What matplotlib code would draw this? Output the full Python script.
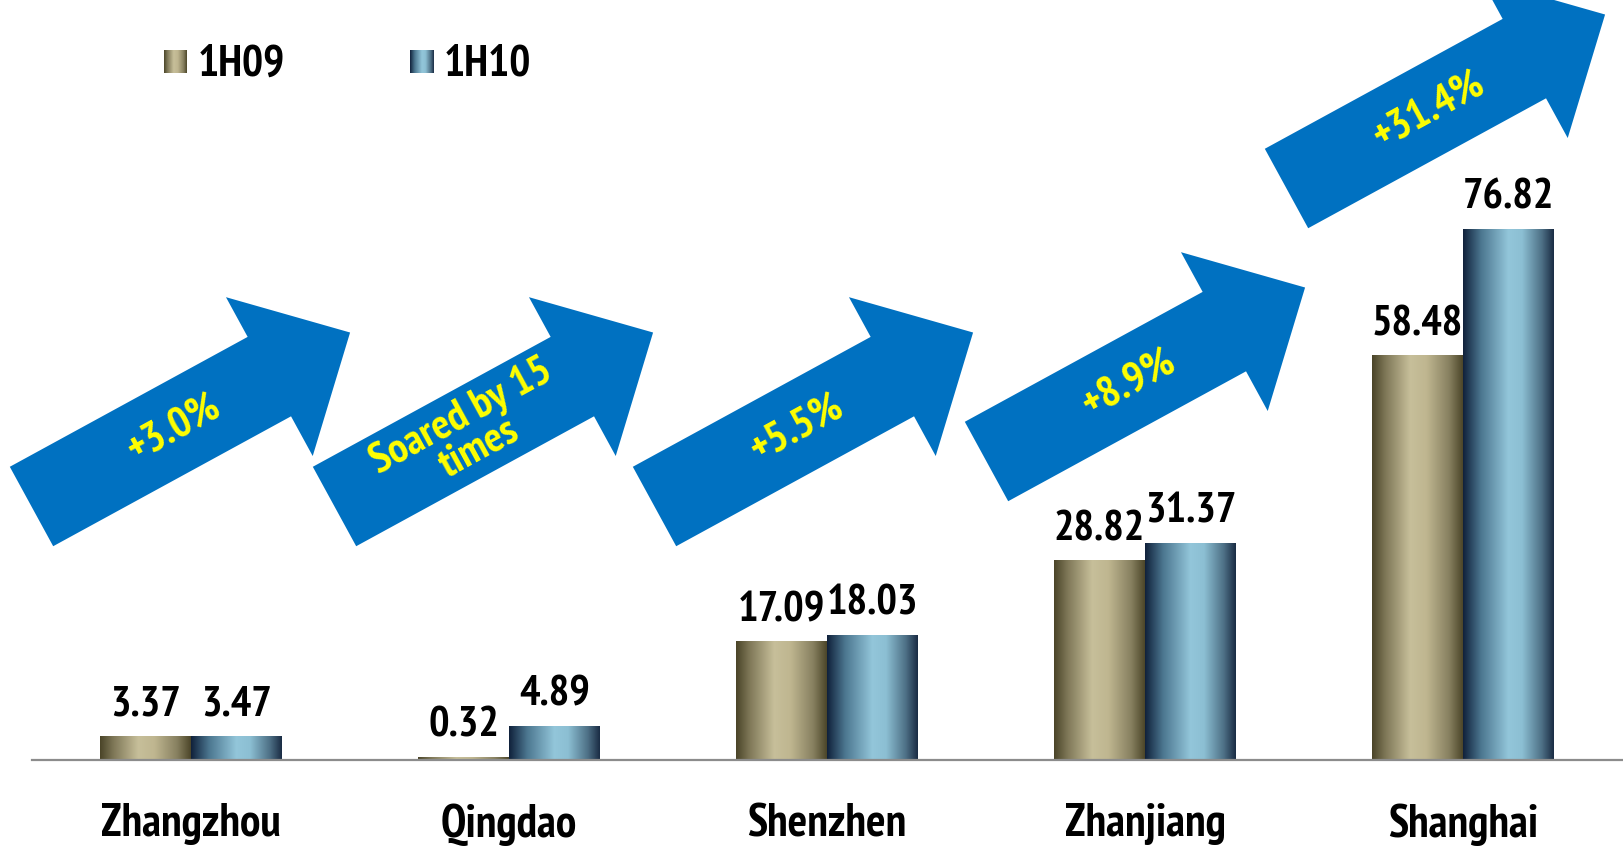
import numpy as np
import matplotlib
matplotlib.use("Agg")
import matplotlib.pyplot as plt
import matplotlib.transforms as mtransforms
import matplotlib.font_manager as fm
from matplotlib.colors import LinearSegmentedColormap
from matplotlib.patches import Polygon

# data
ports = ["Zhangzhou", "Qingdao", "Shenzhen", "Zhanjiang", "Shanghai"]
series = ["1H09", "1H10"]
vals_1h09 = [3.37, 0.32, 17.09, 28.82, 58.48]
vals_1h10 = [3.47, 4.89, 18.03, 31.37, 76.82]
growth_labels = ["+3.0%", "Soared by 15\ntimes", "+5.5%", "+8.9%", "+31.4%"]

W, H = 1624, 858


def narrow_bold_font():
    # first Arial Narrow Bold look-alike that has a real bold face installed
    wanted = ["Liberation Sans Narrow", "PT Sans Narrow", "Open Sans Condensed",
              "IBM Plex Sans Condensed", "Roboto Condensed"]
    bold = {f.name for f in fm.fontManager.ttflist
            if isinstance(f.weight, int) and f.weight >= 700 or f.weight == "bold"}
    for name in wanted:
        if name in bold:
            return name
    return "Liberation Sans"


LABEL_FONT = [narrow_bold_font(), "DejaVu Sans"]
ARROW_BLUE = "#0071c1"

# horizontal "metal" gradients used for the bars
cmap_09 = LinearSegmentedColormap.from_list("c09", [
    (0.0, "#4a4428"), (0.15, "#7f7858"), (0.42, "#c7bf9a"),
    (0.6, "#bfb690"), (0.85, "#878060"), (1.0, "#4c4629")])
cmap_10 = LinearSegmentedColormap.from_list("c10", [
    (0.0, "#10213b"), (0.2, "#4c7790"), (0.5, "#93c6da"),
    (0.65, "#8cbfd3"), (0.87, "#4d6f85"), (1.0, "#1a2c44")])
grad = np.linspace(0, 1, 256).reshape(1, -1)

fig = plt.figure(figsize=(W / 100, H / 100), dpi=100)
# pixel coords measured from the top-left corner of the figure
px = mtransforms.Affine2D().scale(1 / W, -1 / H).translate(0, 1) + fig.transFigure

ax = fig.add_axes([32 / W, 98 / H, 1590 / W, 760 / H])
ax.set_zorder(1)
ax.patch.set_alpha(0)

x = np.arange(len(ports))
width = 0.286
ymax = 110.0

bars09 = ax.bar(x - width / 2, vals_1h09, width, facecolor="none", linewidth=0)
bars10 = ax.bar(x + width / 2, vals_1h10, width, facecolor="none", linewidth=0)

for bars, cmap, vals in [(bars09, cmap_09, vals_1h09), (bars10, cmap_10, vals_1h10)]:
    for rect, v in zip(bars, vals):
        x0 = rect.get_x()
        x1 = x0 + rect.get_width()
        ax.imshow(grad, cmap=cmap, extent=[x0, x1, 0, rect.get_height()],
                  aspect="auto", zorder=2, interpolation="bilinear")
        ax.annotate(f"{v:.2f}", (x0 + rect.get_width() / 2, v),
                    xytext=(0, 15), textcoords="offset points",
                    ha="center", va="baseline", fontsize=31,
                    fontweight="bold", family=LABEL_FONT, zorder=5)

ax.set_xlim(-0.5, 4.5)
ax.set_ylim(0, ymax)
ax.set_yticks([])
ax.set_xticks(x)
ax.set_xticklabels(ports, fontsize=33, fontweight="bold", family=LABEL_FONT)
ax.tick_params(axis="x", length=0, pad=31)
for side in ["top", "right", "left"]:
    ax.spines[side].set_visible(False)
ax.spines["bottom"].set_color("#8c8c8c")
ax.spines["bottom"].set_linewidth(1.6)

# growth arrows (same shape, shifted per port)
angle = np.deg2rad(28.64)
shaft_len, shaft_w, head_len, head_w = 271, 90.5, 92, 181
local = np.array([
    (0, shaft_w / 2), (0, -shaft_w / 2), (shaft_len, -shaft_w / 2),
    (shaft_len, -head_w / 2), (shaft_len + head_len, 0),
    (shaft_len, head_w / 2), (shaft_len, shaft_w / 2)])
rot = np.array([[np.cos(angle), -np.sin(angle)], [np.sin(angle), np.cos(angle)]])
tail_centers = [(31.5, 506.5), (334.5, 506.5), (654.5, 506.5),
                (986.5, 461.5), (1286.5, 188.5)]
text_along = [162, 155, 162, 162, 162]

for (cx, cy), lab, along in zip(tail_centers, growth_labels, text_along):
    pts = local @ rot.T
    verts = np.column_stack([cx + pts[:, 0], cy - pts[:, 1]])
    fig.patches.append(Polygon(verts, closed=True, transform=px,
                               facecolor=ARROW_BLUE, edgecolor="none", zorder=0))
    tx = cx + along * np.cos(angle)
    ty = cy - along * np.sin(angle)
    fig.text(tx, ty, lab, transform=px, rotation=np.rad2deg(angle),
             rotation_mode="anchor", ha="center", va="center",
             multialignment="center", linespacing=0.9,
             color="#ffff00", fontsize=31, fontweight="bold",
             family=LABEL_FONT, zorder=3)

# legend drawn by hand so the swatches keep the gradient
for name, cmap, sx in [(series[0], cmap_09, 164), (series[1], cmap_10, 410)]:
    sw = fig.add_axes([sx / W, 1 - 73 / H, 23 / W, 23 / H])
    sw.imshow(grad, cmap=cmap, aspect="auto", interpolation="bilinear")
    sw.axis("off")
    fig.text(sx + 34, 76, name, transform=px, ha="left", va="baseline",
             fontsize=32, fontweight="bold", family=LABEL_FONT)

fig.savefig("out.png", dpi=100)
